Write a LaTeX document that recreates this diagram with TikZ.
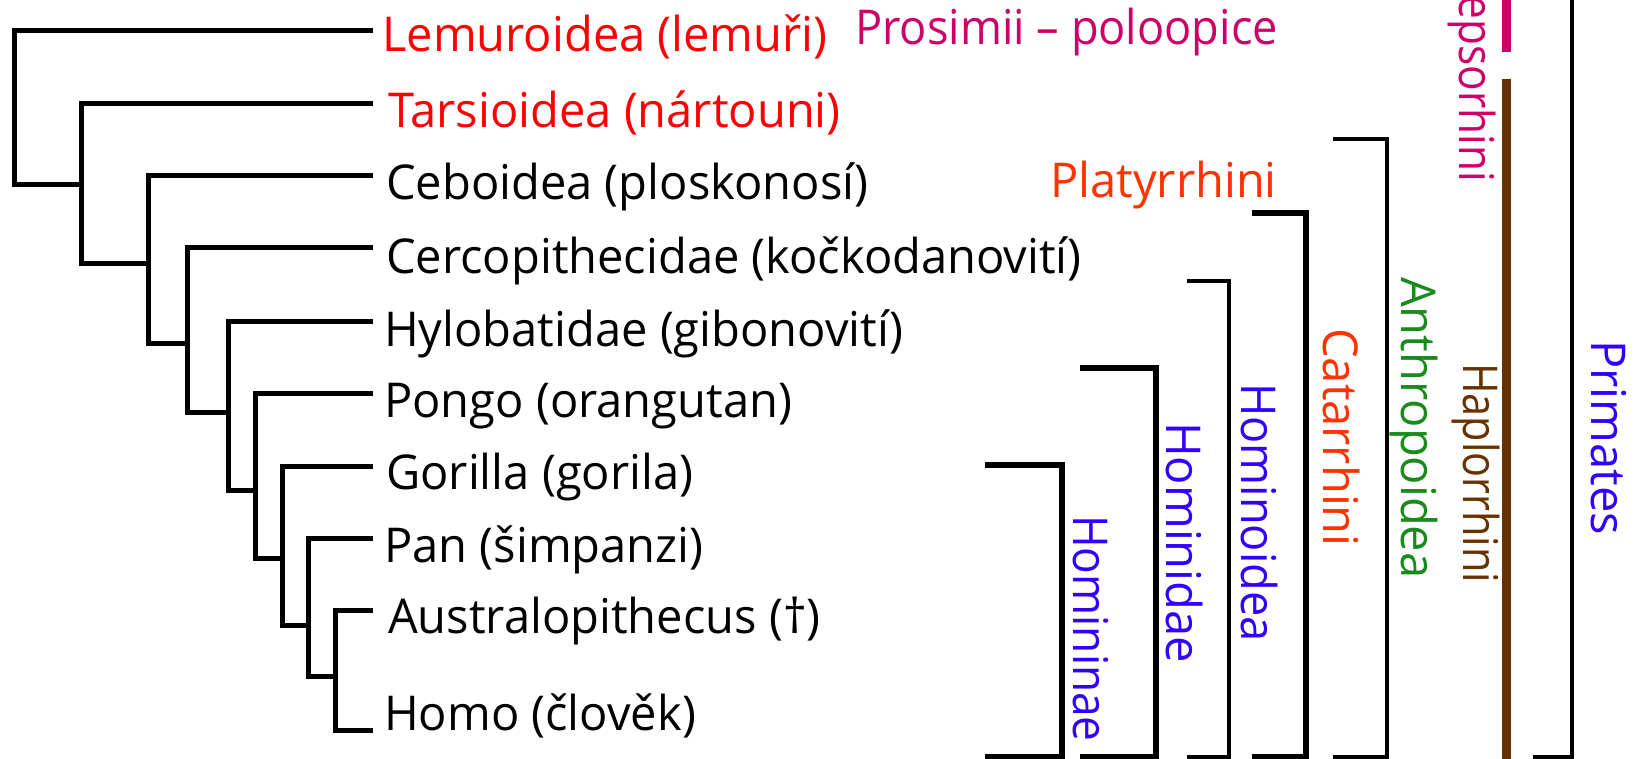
\documentclass[tikz,border=0pt]{standalone}
\usepackage{fontspec}
\setmainfont{Open Sans}[FakeStretch=0.98]
\definecolor{lred}{HTML}{FF0000}
\definecolor{ored}{HTML}{FF3300}
\definecolor{mag}{HTML}{CC0066}
\definecolor{blu}{HTML}{3300FF}
\definecolor{grn}{HTML}{1A8A1A}
\definecolor{brn}{HTML}{663300}
\begin{document}
\begin{tikzpicture}[x=1pt,y=-1pt,
  tree/.style={line width=5pt, line join=miter},
  thinbr/.style={line width=3.8pt, line join=miter},
  thickbr/.style={line width=6.8pt, line join=miter},
  bar/.style={line width=9pt},
  lbl/.style={inner sep=0pt, font=\fontsize{48}{52}\selectfont},
  leaf/.style={lbl, anchor=base west},
  vlab/.style={lbl, rotate=-90, anchor=base west},
]
\useasboundingbox (0,0) rectangle (1638,759);
\fill[white] (0,0) rectangle (1638,759);
\clip (0,0) rectangle (1638,759);

% leaf tips
\coordinate (tLem) at (373,31);
\coordinate (tTar) at (373,104);
\coordinate (tCeb) at (373,176);
\coordinate (tCer) at (373,248);
\coordinate (tHyl) at (373,321);
\coordinate (tPon) at (373,393);
\coordinate (tGor) at (373,466);
\coordinate (tPan) at (373,538);
\coordinate (tAus) at (373,610);
\coordinate (tHom) at (373,730);

% internal nodes (attach points)
\coordinate (r)  at (14,31);
\coordinate (n2) at (81,185);
\coordinate (n3) at (148,264);
\coordinate (n4) at (187,343);
\coordinate (n5) at (228,412);
\coordinate (n6) at (255,490);
\coordinate (n7) at (282,558);
\coordinate (n8) at (308,625);
\coordinate (n9) at (335,676);

% leaf labels
\node[leaf, text=lred] (lem) at (382,52) {Lemuroidea (lemuři)};
\node[leaf, text=lred] (tar) at (388,128) {Tarsioidea (nártouni)};
\node[leaf] (ceb) at (386,200) {Ceboidea (ploskonosí)};
\node[leaf] (cer) at (386,273) {Cercopithecidae (kočkodanovití)};
\node[leaf] (hyl) at (384,346) {Hylobatidae (gibonovití)};
\node[leaf] (pon) at (384,417) {Pongo (orangutan)};
\node[leaf] (gor) at (386,489) {Gorilla (gorila)};
\node[leaf] (pan) at (384,562) {Pan (šimpanzi)};
\node[leaf] (aus) at (388,633) {Australopithecus (†)};
\node[leaf] (hom) at (384,730) {Homo (člověk)};

% tree
\draw[tree] (tLem) -- (r) -- (r |- n2) -- (n2);
\draw[tree] (tTar) -| (n2) -- (n2 |- n3) -- (n3);
\draw[tree] (tCeb) -| (n3) -- (n3 |- n4) -- (n4);
\draw[tree] (tCer) -| (n4) -- (n4 |- n5) -- (n5);
\draw[tree] (tHyl) -| (n5) -- (n5 |- n6) -- (n6);
\draw[tree] (tPon) -| (n6) -- (n6 |- n7) -- (n7);
\draw[tree] (tGor) -| (n7) -- (n7 |- n8) -- (n8);
\draw[tree] (tPan) -| (n8) -- (n8 |- n9) -- (n9);
\draw[tree] (tAus) -| (n9) -- (n9 |- tHom) -- (tHom);

% group labels
\node[leaf, text=mag] (pros) at (855,45) {\scalebox{0.96}[1]{Prosimii – poloopice}};
\node[leaf, text=ored] (platy) at (1050,198) {Platyrrhini};

% brackets
\coordinate (hA) at (985,465);  \coordinate (hB) at (1062,757);
\coordinate (dA) at (1080,368); \coordinate (dB) at (1156,757);
\coordinate (oA) at (1187,281); \coordinate (oB) at (1229,757);
\coordinate (cA) at (1252,213); \coordinate (cB) at (1306,757);
\coordinate (aA) at (1333,139); \coordinate (aB) at (1387,757);
\coordinate (pA) at (1533,-60); \coordinate (pB) at (1572,757);
\draw[thickbr] (hA) -| (hB) -- (hA |- hB);
\draw[thickbr] (dA) -| (dB) -- (dA |- dB);
\draw[thinbr]  (oA) -| (oB) -- (oA |- oB);
\draw[thickbr] (cA) -| (cB) -- (cA |- cB);
\draw[thinbr]  (aA) -| (aB) -- (aA |- aB);
\draw[thinbr]  (pA) -| (pB) -- (pA |- pB);

% coloured bars
\coordinate (sT) at (1506,-10); \coordinate (sB) at (1506,52);
\coordinate (bT) at (1506,79);  \coordinate (bB) at (1506,770);
\draw[bar, mag] (sT) -- (sB);
\draw[bar, brn] (bT) -- (bB);

% vertical labels
\node[vlab, text=blu] (hnae) at (1073,515) {\scalebox{0.94}[1]{Homininae}};
\node[vlab, text=blu] (hdae) at (1166,422) {Hominidae};
\node[vlab, text=blu] (hdea) at (1241,383) {\scalebox{0.96}[1]{Hominoidea}};
\node[vlab, text=ored] (cat) at (1323,328) {Catarrhini};
\node[vlab, text=grn] (anth) at (1401,277) {Anthropoidea};
\node[vlab, text=brn] (hapl) at (1463,363) {\scalebox{0.88}[1]{Haplorrhini}};
\node[vlab, text=blu] (prim) at (1591,340) {Primates};
\node[lbl, rotate=-90, anchor=base east, text=mag] (strep) at (1459,182) {\scalebox{0.9}[1]{Strepsorhini}};
\end{tikzpicture}
\end{document}
